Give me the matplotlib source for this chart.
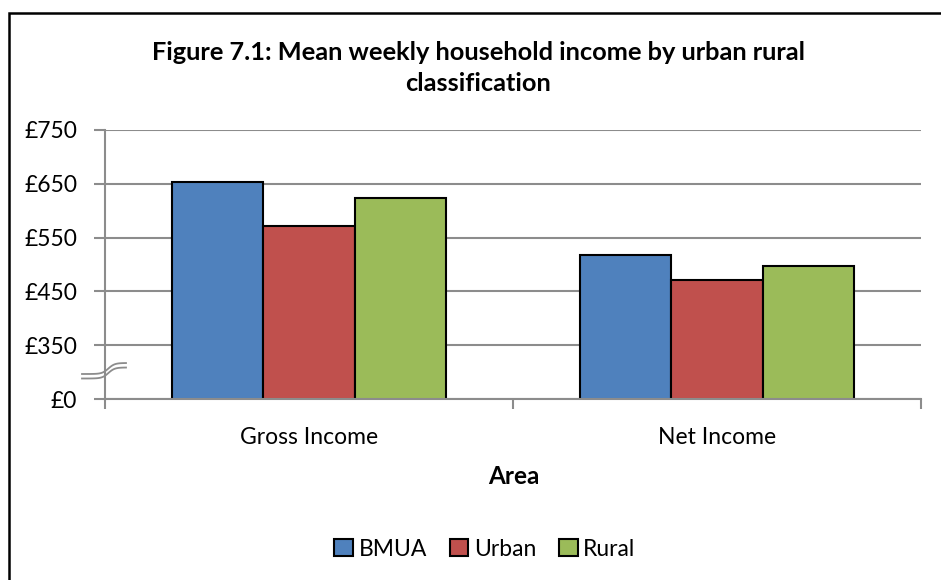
import matplotlib
matplotlib.use("Agg")
import matplotlib.pyplot as plt
import numpy as np
from matplotlib.patches import Rectangle

# ---- data ----
categories = ["Gross Income", "Net Income"]
series_names = ["BMUA", "Urban", "Rural"]
bmua = [653, 517]
urban = [571, 471]
rural = [623, 497]
ytick_values = [250, 350, 450, 550, 650, 750]
ytick_labels = ["£0", "£350", "£450", "£550", "£650", "£750"]
title = "Figure 7.1: Mean weekly household income by urban rural\nclassification"
xlabel = "Area"

colors = ["#4F81BD", "#C0504D", "#9BBB59"]
grid_c = "#8C8C8C"

plt.rcParams['font.family'] = ['Lato', 'DejaVu Sans']

fig = plt.figure(figsize=(9.41, 5.80), dpi=100)
W, H = 941, 580
ax = fig.add_axes([105 / W, 1 - 399 / H, (921 - 105) / W, (399 - 130) / H])

x = np.arange(len(categories))
bw = 0.2245
for i, (name, vals) in enumerate(zip(series_names, [bmua, urban, rural])):
    ax.bar(x + (i - 1) * bw, vals, width=bw, color=colors[i], edgecolor="black",
           linewidth=1.5, label=name, zorder=3)

ax.set_xlim(-0.5, 1.5)
ax.set_ylim(ytick_values[0], ytick_values[-1])
ax.set_yticks(ytick_values)
ax.set_yticklabels(ytick_labels, fontsize=16.5)
ax.set_xticks(x)
ax.set_xticklabels(categories, fontsize=16.5)
ax.set_xticks([-0.5, 0.5, 1.5], minor=True)
ax.tick_params(axis='x', which='major', length=0, pad=20)
ax.tick_params(axis='x', which='minor', length=7, width=1.5, color=grid_c, direction='out')
ax.tick_params(axis='y', which='major', length=8, width=1.5, color=grid_c, pad=12)

ax.yaxis.grid(True, color=grid_c, linewidth=1.5, zorder=0)
ax.set_axisbelow(True)
for s in ["top", "right"]:
    ax.spines[s].set_visible(False)
for s in ["left", "bottom"]:
    ax.spines[s].set_color(grid_c)
    ax.spines[s].set_linewidth(1.5)
    ax.spines[s].set_zorder(4)

# axis break symbol
t = np.linspace(0, 1, 50)
bx = 82 + 44 * t
for off in (0, 4.5):
    by = 374 + off - 11 * (1 / (1 + np.exp(-(t - 0.6) * 14)))
    fig.add_artist(plt.Line2D(bx / W, 1 - by / H, color=grid_c, linewidth=1.3))

fig.text(478 / W, 1 - 68 / H, title, ha='center', va='center', fontsize=18.3,
         fontweight='bold', linespacing=1.45)
fig.text(514 / W, 1 - 477 / H, xlabel, ha='center', va='center', fontsize=17.5,
         fontweight='bold')

leg = fig.legend(loc='center', bbox_to_anchor=(485 / W, 1 - 549 / H), ncol=3,
                 frameon=False, fontsize=16.5, handlelength=0.8, handleheight=0.8,
                 handletextpad=0.25, columnspacing=1.0)

# outer border (top and left edges visible)
fig.add_artist(Rectangle((8.5 / W, -0.1), 1.2, 1 - 13.5 / H + 0.1, transform=fig.transFigure,
                         fill=False, edgecolor="black", linewidth=1.8))

fig.savefig("out.png", dpi=100)
